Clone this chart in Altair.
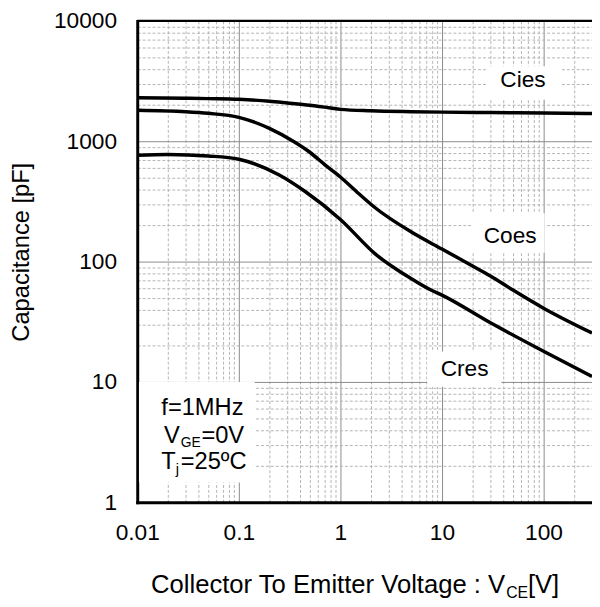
import altair as alt
import pandas as pd

FONT = "Liberation Sans"

# ---- data ----
vce_cies = [0.01, 0.03, 0.05, 0.1, 0.2, 0.3, 0.5, 0.8, 1, 2, 5, 10, 30, 100, 300]
cies = [2300, 2280, 2260, 2230, 2150, 2080, 1990, 1890, 1840, 1790, 1760, 1745, 1730, 1715, 1700]

vce_coes = [0.01, 0.03, 0.05, 0.1, 0.2, 0.35, 0.5, 0.7, 1, 1.5, 2.2, 5, 10, 20, 30, 50, 100, 300]
coes = [1810, 1760, 1706, 1580, 1280, 990, 810, 640, 505, 370, 280, 176, 127, 92, 76, 58, 41, 25.5]

vce_cres = [0.01, 0.02, 0.05, 0.1, 0.25, 0.45, 1, 2.2, 5, 7.8, 10, 30, 100, 300]
cres = [765, 776, 754, 708, 524, 382, 224, 116, 72, 58, 52.6, 31, 18, 11.1]

x_ticks = [0.01, 0.02, 0.03, 0.04, 0.05, 0.06, 0.07, 0.08, 0.09,
           0.1, 0.2, 0.3, 0.4, 0.5, 0.6, 0.7, 0.8, 0.9,
           1, 2, 3, 4, 5, 6, 7, 8, 9,
           10, 20, 30, 40, 50, 60, 70, 80, 90,
           100, 200, 300]
y_ticks = [1, 2, 3, 4, 5, 6, 7, 8, 9,
           10, 20, 30, 40, 50, 60, 70, 80, 90,
           100, 200, 300, 400, 500, 600, 700, 800, 900,
           1000, 2000, 3000, 4000, 5000, 6000, 7000, 8000, 9000, 10000]

# curve labels (text, x, y) and their white boxes
label_names = ["Cies", "Coes", "Cres"]
label_v = [62.7, 46.9, 16.7]
label_c = [2825, 143.9, 11.27]
box_v1 = [27.4, 19.6, 7.16, 0.0104]
box_v2 = [146.6, 102.6, 38.4, 0.1433]
box_c1 = [2210, 118.5, 9.1, 1.46]
box_c2 = [4200, 252, 17.9, 10]

# condition text anchor
cond_v = 0.0438
cond_c = [5.29, 3.10, 1.88]

W, H = 461, 488

xs = alt.Scale(type="log", domain=[0.01, 300], nice=False)
ys = alt.Scale(type="log", domain=[1, 10000], nice=False)

major = "abs(log(datum.value)/LN10 - round(log(datum.value)/LN10)) < 0.001"


def make_axis(values, **kw):
    return alt.Axis(
        values=values, grid=True,
        gridColor={"condition": {"test": major, "value": "#8a8a8a"}, "value": "#b4b4b4"},
        gridDash={"condition": {"test": major, "value": []}, "value": [3, 2]},
        gridWidth=1, ticks=False,
        domainColor="black", domainWidth=3, domainCap="square",
        labelExpr=f"({major}) ? format(datum.value, '') : ''",
        labelFontSize=23, labelColor="black", labelFont=FONT,
        labelOverlap=False, labelFlush=False, **kw)


x_axis = make_axis(x_ticks, title=None, labelPadding=20)
y_axis = make_axis(y_ticks, title="Capacitance [pF]", labelPadding=21,
                   titleFont=FONT, titleFontSize=24, titleFontWeight="normal",
                   titleColor="black", titleAngle=270, titleX=-117, titleY=234,
                   titleAlign="center", titleBaseline="middle")


def X(f="v:Q"):
    return alt.X(f, scale=xs, axis=x_axis)


def Y(f="c:Q"):
    return alt.Y(f, scale=ys, axis=y_axis)


df = pd.concat([
    pd.DataFrame({"v": vce_cies, "c": cies, "s": "Cies"}),
    pd.DataFrame({"v": vce_coes, "c": coes, "s": "Coes"}),
    pd.DataFrame({"v": vce_cres, "c": cres, "s": "Cres"}),
])

lines = alt.Chart(df).mark_line(color="black", strokeWidth=3.5, interpolate="monotone").encode(
    x=X(), y=Y(), detail="s:N")

boxes = alt.Chart(pd.DataFrame({"v": box_v1, "v2": box_v2, "c": box_c1, "c2": box_c2})).mark_rect(
    color="white").encode(x=X(), x2="v2:Q", y=Y(), y2="c2:Q")

top_rule = alt.Chart(pd.DataFrame({"a": [0]})).mark_rule(color="black", strokeWidth=2.5).encode(
    x=alt.value(0), x2=alt.value(W), y=alt.value(0))

labels = alt.Chart(pd.DataFrame({"v": label_v, "c": label_c, "t": label_names})).mark_text(
    font=FONT, fontSize=23, align="center", baseline="alphabetic", color="black").encode(
    x=X(), y=Y(), text="t:N")


def txt(t, v, c, size=24, align="center", dx=0, dy=0):
    return alt.Chart(pd.DataFrame({"v": [v], "c": [c], "t": [t]})).mark_text(
        font=FONT, fontSize=size, align=align, baseline="alphabetic", dx=dx, dy=dy,
        color="black").encode(x=X(), y=Y(), text="t:N")


def ptxt(t, px, py, size, align):
    return alt.Chart(pd.DataFrame({"t": [t]})).mark_text(
        font=FONT, fontSize=size, align=align, baseline="alphabetic", color="black").encode(
        x=alt.value(px), y=alt.value(py), text="t:N")


cond = [
    txt("f=1MHz", cond_v, cond_c[0]),
    txt("V", cond_v, cond_c[1], align="right", dx=-23),
    txt("GE", cond_v, cond_c[1], size=14, align="left", dx=-22, dy=4),
    txt("=0V", cond_v, cond_c[1], align="left", dx=-1),
    txt("T", cond_v, cond_c[2], align="right", dx=-27),
    txt("j", cond_v, cond_c[2], size=15, align="left", dx=-27, dy=5),
    txt("=25ºC", cond_v, cond_c[2], align="left", dx=-22),
]

xtitle = [
    ptxt("Collector To Emitter Voltage : V", 373, 580, 26, "right"),
    ptxt("CE", 374, 585, 16, "left"),
    ptxt("[V]", 396, 580, 26, "left"),
]

chart = alt.layer(lines, boxes, top_rule, labels, *cond, *xtitle).properties(
    width=W, height=H,
    padding={"left": 131, "top": 9, "right": 0, "bottom": 96},
    autosize=alt.AutoSizeParams(type="none"),
).configure_view(stroke=None).configure(font=FONT)

chart.save("out.html", embed_options={"renderer": "svg", "actions": False})
